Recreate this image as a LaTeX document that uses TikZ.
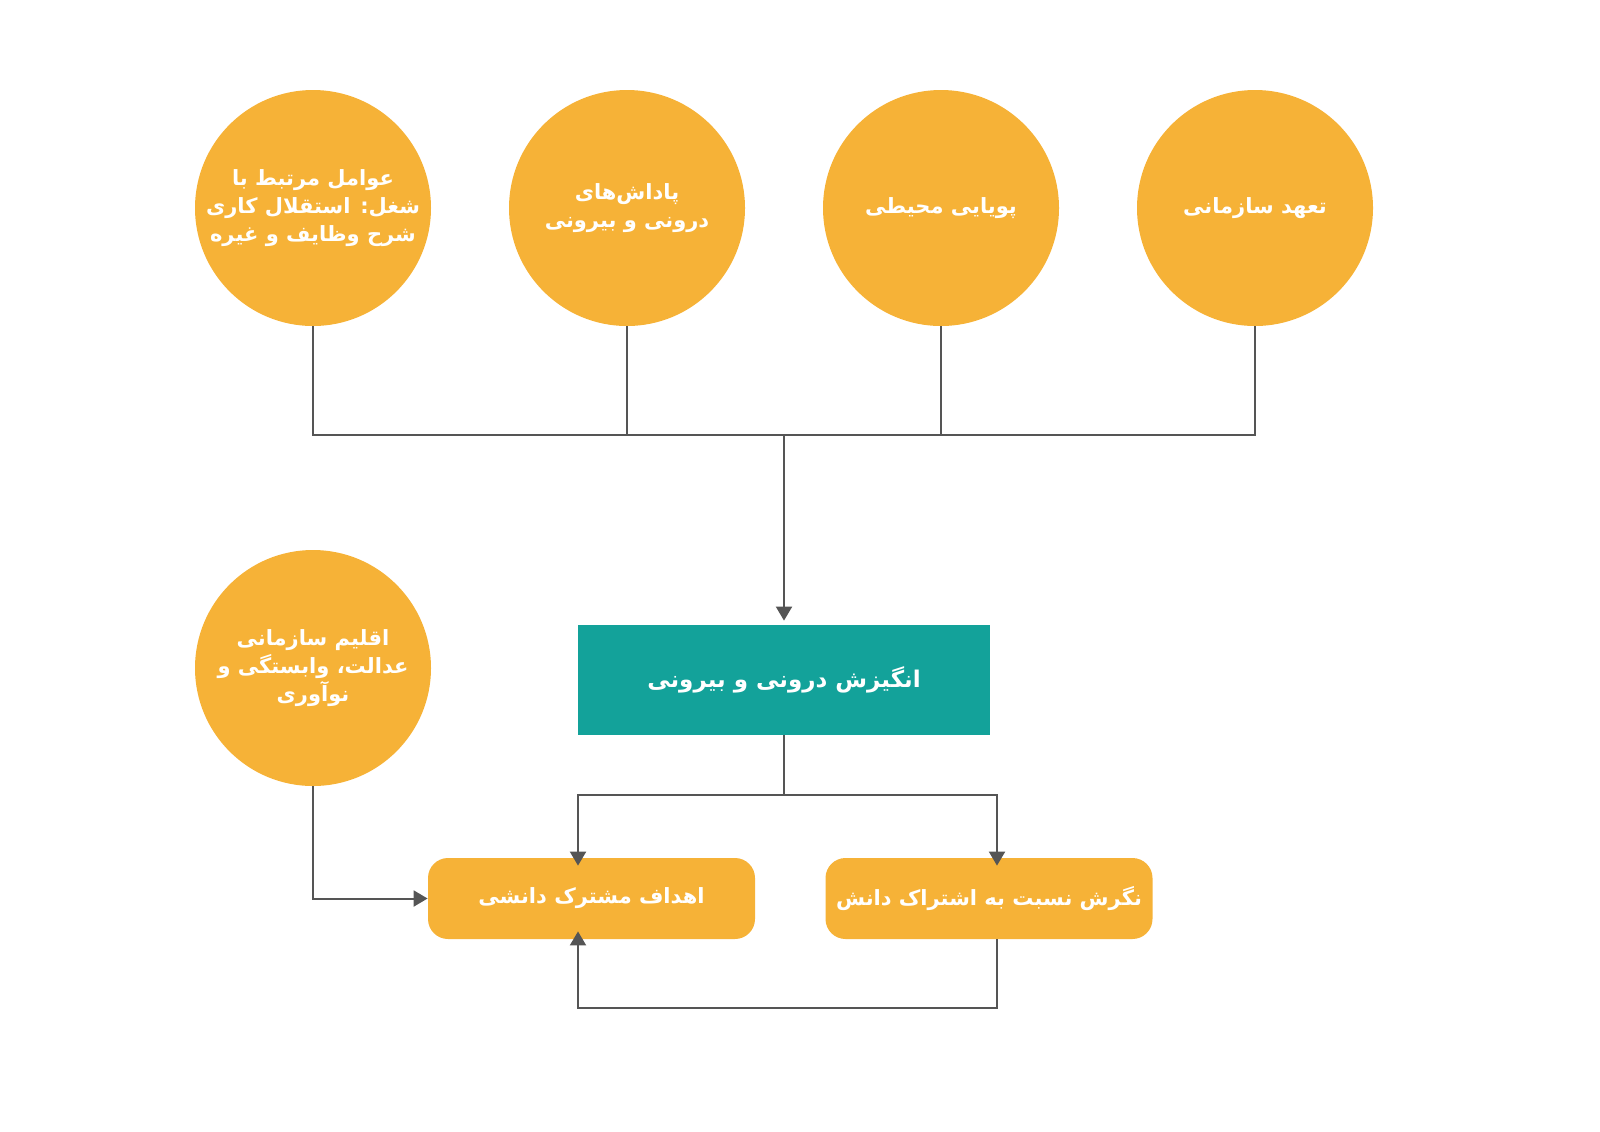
\documentclass[tikz,border=0pt]{standalone}
\usepackage{fontspec}
\TeXXeTstate=1
\newfontfamily\arabicfont[Script=Arabic]{DejaVu Sans}
\newcommand{\fa}[1]{\beginR #1\endR}
\usetikzlibrary{arrows.meta}
\definecolor{orng}{HTML}{F6B237}
\definecolor{tealc}{HTML}{13A29A}
\definecolor{lnc}{HTML}{555555}
\tikzset{
 circ/.style={circle,fill=orng,minimum size=118pt,inner sep=0pt},
 ctext/.style={align=center,text=white,inner sep=0pt,font=\arabicfont\bfseries\fontsize{10.5}{14}\selectfont},
 rbox/.style={rectangle,rounded corners=10pt,fill=orng,minimum width=163.5pt,minimum height=40.5pt,text=white,font=\arabicfont\bfseries\fontsize{10.5}{14}\selectfont},
 tbox/.style={rectangle,fill=tealc,minimum width=206pt,minimum height=55pt,text=white,font=\arabicfont\bfseries\fontsize{11.5}{15}\selectfont},
 ln/.style={draw=lnc,line width=1pt},
 arr/.style={ln,-{Triangle[length=7pt,width=8pt]}}
}
\begin{document}
\begin{tikzpicture}[x=0.5pt,y=-0.5pt]
\useasboundingbox (0,0) rectangle (1600,1131);
\node[circ,label={[ctext]center:\fa{عوامل مرتبط با}\\\fa{شغل: استقلال کاری}\\\fa{شرح وظایف و غیره}}] (c1) at (313,208) {};
\node[circ,label={[ctext]center:\fa{پاداش‌های}\\\fa{درونی و بیرونی}}] (c2) at (627,208) {};
\node[circ,label={[ctext]center:\fa{پویایی محیطی}}] (c3) at (941,208) {};
\node[circ,label={[ctext]center:\fa{تعهد سازمانی}}] (c4) at (1255,208) {};
\node[circ,label={[ctext]center:\fa{اقلیم سازمانی}\\\fa{عدالت، وابستگی و}\\\fa{نوآوری}}] (c5) at (313,668) {};
\node[tbox] (m) at (784,680) {\fa{انگیزش درونی و بیرونی}};
\node[rbox] (g) at (591.5,898.5) {\fa{اهداف مشترک دانشی}};
\node[rbox] (a) at (989,898.5) {\fa{نگرش نسبت به اشتراک دانش}};
\coordinate (bus) at (784,435);
\coordinate (sp) at (784,795);
\draw[ln] (c1.south) |- (bus) (c2.south) |- (bus) (c3.south) |- (bus) (c4.south) |- (bus);
\draw[arr] (bus) -- ([yshift=2pt]m.north);
\draw[ln] (m.south) -- (sp);
\draw[arr] (sp) -| ([yshift=-4pt]g.north -| 578,0);
\draw[arr] (sp) -| ([yshift=-4pt]a.north -| 997,0);
\draw[arr] (c5.south) |- (g.west);
\draw[arr] (a.south -| 997,0) -- (997,1008) -| ([yshift=4pt]g.south -| 578,0);
\end{tikzpicture}
\end{document}
